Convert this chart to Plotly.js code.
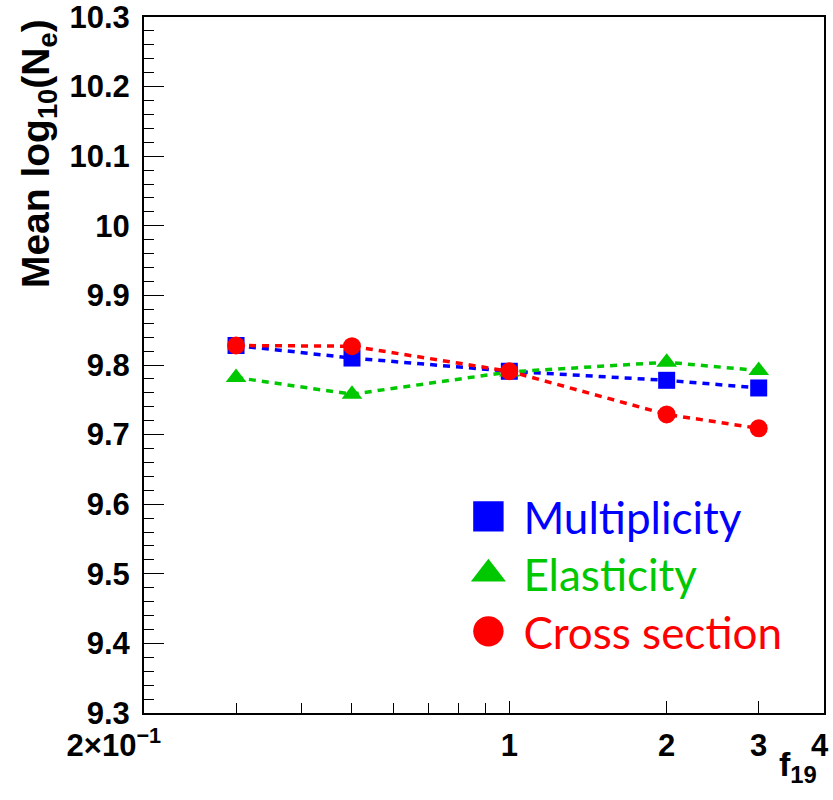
<!DOCTYPE html>
<html>
<head>
<meta charset="utf-8">
<script src="https://cdn.plot.ly/plotly-3.0.1.min.js"></script>
<style>html,body{margin:0;padding:0;background:#fff;}#chart{width:833px;height:800px;}</style>
</head>
<body>
<div id="chart"></div>
<script>
const f19 = [0.3, 0.5, 1, 2, 3];
const multiplicity = [9.828, 9.810, 9.791, 9.778, 9.767];
const elasticity = [9.782, 9.758, 9.790, 9.804, 9.792];
const crossSection = [9.828, 9.827, 9.791, 9.729, 9.709];
const seriesNames = ["Multiplicity", "Elasticity", "Cross section"];
const xTickVals = [0.2, 1, 2, 3, 4];
const xTickText = ["<b>2×10<sup>−1</sup></b>&nbsp;&nbsp;&nbsp;&nbsp;&nbsp;&nbsp;&nbsp;", "<b>1</b>", "<b>2</b>", "<b>3</b>", "<b>4</b>&nbsp;"];
const xMinorVals = [0.3, 0.4, 0.5, 0.6, 0.7, 0.8, 0.9];

const colors = ["#0000ff", "#00c800", "#ff0000"];
const symbols = ["square", "triangle-up", "circle"];
const sizes = [17, 18, 18];
const allY = [multiplicity, elasticity, crossSection];

const traces = [];
for (let i = 0; i < 3; i++) {
  traces.push({
    x: f19, y: allY[i], type: "scatter", mode: "lines",
    line: {color: colors[i], width: 3.5, dash: "7px,6px"},
    showlegend: false, hoverinfo: "skip"
  });
  traces.push({
    x: f19, y: allY[i], type: "scatter", mode: "markers",
    name: seriesNames[i], legendgroup: "g" + i,
    marker: {color: colors[i], symbol: symbols[i], size: sizes[i], line: {width: 0}}
  });
}

const tickFont = {family: "'Liberation Sans', Arial, sans-serif", size: 31, color: "#000", weight: "bold"};

const layout = {
  width: 833, height: 800,
  margin: {l: 144, r: 9, t: 17, b: 87},
  paper_bgcolor: "#fff", plot_bgcolor: "#fff",
  showlegend: true,
  legend: {
    x: 0.455, y: 0.333, xanchor: "left", yanchor: "top",
    font: {family: "Lato, 'Open Sans', sans-serif", size: 44},
    bgcolor: "rgba(0,0,0,0)", borderwidth: 0,
    traceorder: "grouped", tracegroupgap: 0, itemwidth: 60
  },
  xaxis: {
    type: "log", range: [Math.log10(0.2), Math.log10(4)],
    showline: true, linecolor: "#000", linewidth: 2, mirror: true,
    showgrid: false, zeroline: false,
    tickmode: "array", tickvals: xTickVals, ticktext: xTickText,
    ticks: "inside", ticklen: 12, tickwidth: 1, tickcolor: "#000",
    ticklabelstandoff: 4, ticklabeloverflow: "allow",
    tickfont: tickFont,
    minor: {tickmode: "array", tickvals: xMinorVals, ticks: "inside", ticklen: 10, tickwidth: 1, tickcolor: "#000", showgrid: false}
  },
  yaxis: {
    range: [9.3, 10.3],
    showline: true, linecolor: "#000", linewidth: 2, mirror: true,
    showgrid: false, zeroline: false,
    tickmode: "linear", tick0: 9.3, dtick: 0.1,
    ticks: "inside", ticklen: 20, tickwidth: 1, tickcolor: "#000",
    ticklabelstandoff: 6, ticklabeloverflow: "allow",
    tickfont: tickFont,
    minor: {dtick: 0.02, ticks: "inside", ticklen: 10, tickwidth: 1, tickcolor: "#000", showgrid: false}
  },
  annotations: [
    {
      text: "<b>Mean log<sub>10</sub>(N<sub>e</sub>)</b>",
      xref: "paper", yref: "paper", x: -0.155, y: 1.0, xanchor: "center", yanchor: "top",
      textangle: -90, showarrow: false,
      font: {family: "'Liberation Sans', Arial, sans-serif", size: 39, color: "#000"}
    },
    {
      text: "<b>f<sub>19</sub></b>",
      xref: "paper", yref: "paper", x: 0.993, y: -0.043, xanchor: "right", yanchor: "top",
      showarrow: false,
      font: {family: "'Liberation Sans', Arial, sans-serif", size: 34, color: "#000"}
    }
  ]
};

Plotly.newPlot("chart", traces, layout, {staticPlot: true}).then(function () {
  const texts = document.querySelectorAll(".legend .legendtext");
  texts.forEach(function (t, i) { t.style.fill = colors[i]; });
  document.querySelectorAll(".legend .legendpoints path").forEach(function (p) {
    const tr = p.getAttribute("transform") || "";
    p.setAttribute("transform", tr + " scale(1.9)");
  });
  const rows = document.querySelectorAll(".legend .traces");
  let y0 = null;
  rows.forEach(function (r, i) {
    const m = /translate\(([-\d.]+),\s*([-\d.]+)\)/.exec(r.getAttribute("transform") || "");
    if (!m) return;
    const x = parseFloat(m[1]), y = parseFloat(m[2]);
    if (y0 === null) y0 = y;
    r.setAttribute("transform", "translate(" + x + "," + (y0 + i * 57.5) + ")");
  });
});
</script>
</body>
</html>
